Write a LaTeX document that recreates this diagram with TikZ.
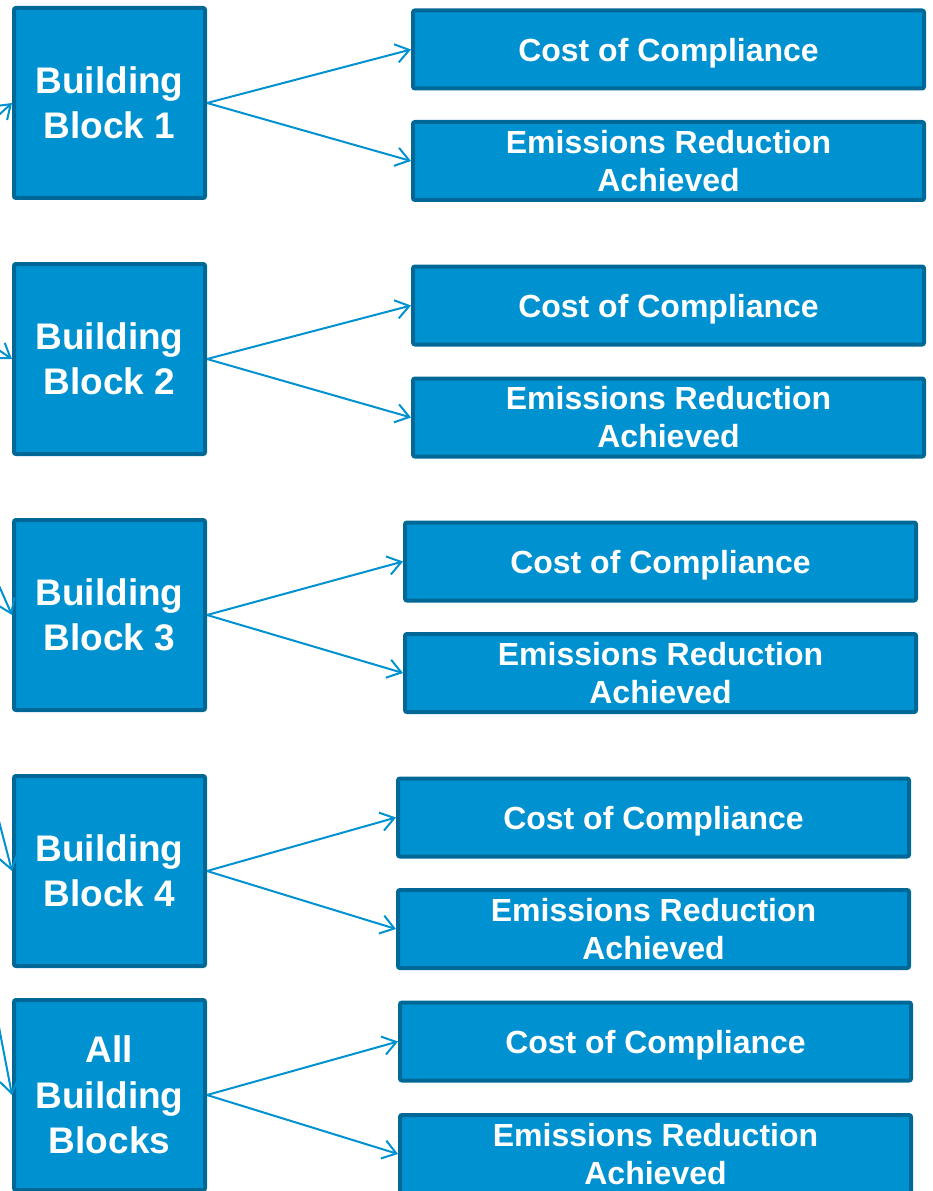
\documentclass[tikz,border=0pt]{standalone}
\usepackage{fontspec}
\setmainfont{Liberation Sans}
\usetikzlibrary{arrows.meta}
\definecolor{boxfill}{RGB}{0,146,208}
\definecolor{boxline}{RGB}{0,104,150}
\definecolor{arrowblue}{RGB}{0,146,208}
\tikzset{
  bbbox/.style={draw=boxline, fill=boxfill, line width=3pt, rounded corners=1.5pt,
    minimum width=143.25pt, minimum height=142.5pt, inner sep=0pt,
    align=center, text=white, font=\bfseries\fontsize{27.75}{34}\selectfont},
  resbox/.style={draw=boxline, fill=boxfill, line width=3pt, rounded corners=1.5pt,
    minimum width=383.25pt, minimum height=58.5pt, inner sep=0pt,
    align=center, text=white, font=\bfseries\fontsize{24}{28.5}\selectfont},
  costbox/.style={resbox, text depth=0pt},
  conn/.style={draw=arrowblue, line width=1.5pt,
    -{Straight Barb[length=10pt,width=14pt,line width=1.5pt]}}
}
\begin{document}
\begin{tikzpicture}[x=0.75pt,y=-0.75pt]
\useasboundingbox (0,0) rectangle (932,1191);
\clip (0,0) rectangle (932,1191);
\coordinate (src) at (-150,250);
% building blocks
\node[bbbox] (b1) at (109.5,103) {Building\\Block 1};
\node[bbbox] (b2) at (109.5,359) {Building\\Block 2};
\node[bbbox] (b3) at (109.5,615) {Building\\Block 3};
\node[bbbox] (b4) at (109.5,871) {Building\\Block 4};
\node[bbbox] (b5) at (109.5,1095) {All\\Building\\Blocks};
% result boxes
\node[costbox] (c1) at (668.5,49.5) {Cost of Compliance};
\node[resbox] (e1) at (668.5,161) {Emissions Reduction\\Achieved};
\node[costbox] (c2) at (668.5,305.5) {Cost of Compliance};
\node[resbox] (e2) at (668.5,417.5) {Emissions Reduction\\Achieved};
\node[costbox] (c3) at (660.5,561.5) {Cost of Compliance};
\node[resbox] (e3) at (660.5,673) {Emissions Reduction\\Achieved};
\node[costbox] (c4) at (653.5,817.5) {Cost of Compliance};
\node[resbox] (e4) at (653.5,929) {Emissions Reduction\\Achieved};
\node[costbox] (c5) at (655.5,1041.5) {Cost of Compliance};
\node[resbox] (e5) at (655.5,1154) {Emissions Reduction\\Achieved};
% connectors
\foreach \i in {1,...,5}{
  \draw[conn] (src) -- (b\i.west);
  \draw[conn] (b\i.east) -- (c\i.west);
  \draw[conn] (b\i.east) -- (e\i.west);
}
\end{tikzpicture}
\end{document}
